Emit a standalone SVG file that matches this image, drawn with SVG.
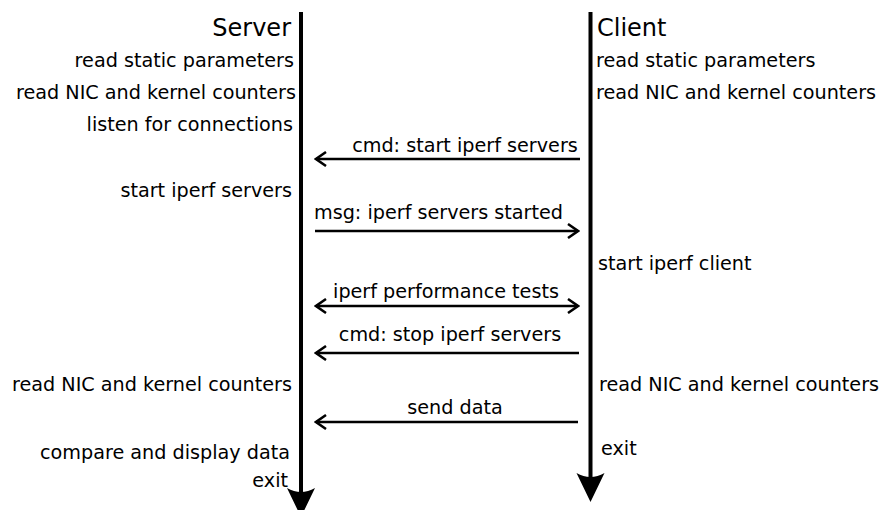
<svg xmlns="http://www.w3.org/2000/svg" width="883" height="510" viewBox="0 0 883 510">
<defs>
<style>
text{font-family:"DejaVu Sans","Liberation Sans",sans-serif;font-size:19.2px;fill:#000}
.title{font-size:24px}
.l{text-anchor:end}
.m{text-anchor:middle}
.life{stroke:#000;stroke-width:4;fill:none}
.msg{stroke:#000;stroke-width:2.5;fill:none}
.head{fill:#000}
</style>
<marker id="chev" viewBox="-12 -8 14 16" markerWidth="14" markerHeight="16" refX="0" refY="0" orient="auto-start-reverse" markerUnits="userSpaceOnUse">
<path d="M-10,-7 L0,0 L-10,7" fill="none" stroke="#000" stroke-width="2.5"/>
</marker>
</defs>
<g id="server">
<line class="life" x1="301" y1="12" x2="301" y2="492"/>
<path class="head" d="M301,517 L287,488 Q301,496 315,488 Z"/>
<text class="title l" x="291" y="36">Server</text>
<text class="l" x="294" y="67">read static parameters</text>
<text class="l" x="296" y="99">read NIC and kernel counters</text>
<text class="l" x="293" y="131">listen for connections</text>
<text class="l" x="292" y="197">start iperf servers</text>
<text class="l" x="292" y="391">read NIC and kernel counters</text>
<text class="l" x="290" y="459">compare and display data</text>
<text class="l" x="288" y="487">exit</text>
</g>
<g id="client">
<line class="life" x1="590.5" y1="12" x2="590.5" y2="478"/>
<path class="head" d="M590.5,502 L576.5,473 Q590.5,481 604.5,473 Z"/>
<text class="title" x="597" y="36">Client</text>
<text x="596" y="67">read static parameters</text>
<text x="596" y="99">read NIC and kernel counters</text>
<text x="598" y="270">start iperf client</text>
<text x="599" y="391">read NIC and kernel counters</text>
<text x="601" y="455">exit</text>
</g>
<g id="connectors">
<g id="m1">
<line class="msg" x1="580" y1="159" x2="316" y2="159" marker-end="url(#chev)"/>
<text class="m" x="465" y="152">cmd: start iperf servers</text>
</g>
<g id="m2">
<line class="msg" x1="315" y1="231" x2="578" y2="231" marker-end="url(#chev)"/>
<text x="314" y="219">msg: iperf servers started</text>
</g>
<g id="m3">
<line class="msg" x1="316" y1="306" x2="578" y2="306" marker-start="url(#chev)" marker-end="url(#chev)"/>
<text class="m" x="446" y="298">iperf performance tests</text>
</g>
<g id="m4">
<line class="msg" x1="579" y1="353" x2="316" y2="353" marker-end="url(#chev)"/>
<text class="m" x="450" y="341">cmd: stop iperf servers</text>
</g>
<g id="m5">
<line class="msg" x1="578" y1="422" x2="316" y2="422" marker-end="url(#chev)"/>
<text class="m" x="455" y="414">send data</text>
</g>
</g>
</svg>
